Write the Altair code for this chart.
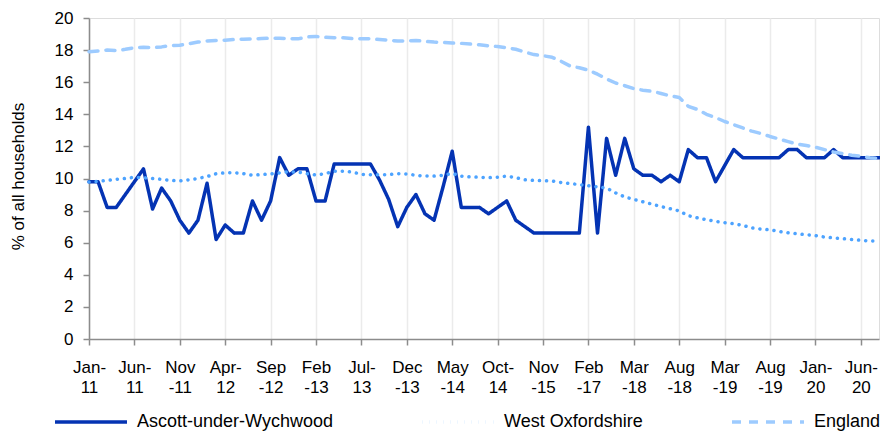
import altair as alt
import pandas as pd

months = [
    "Jan-11","Feb-11","Mar-11","Apr-11","May-11","Jun-11","Jul-11","Aug-11","Sep-11","Oct-11",
    "Nov-11","Dec-11","Jan-12","Feb-12","Mar-12","Apr-12","May-12","Jun-12","Jul-12","Aug-12",
    "Sep-12","Oct-12","Nov-12","Dec-12","Jan-13","Feb-13","Mar-13","Apr-13","May-13","Jun-13",
    "Jul-13","Aug-13","Sep-13","Oct-13","Nov-13","Dec-13","Jan-14","Feb-14","Mar-14","Apr-14",
    "May-14","Jun-14","Jul-14","Aug-14","Sep-14","Oct-14","Dec-14","Mar-15","Jun-15","Sep-15",
    "Nov-15","Feb-16","May-16","Aug-16","Nov-16","Feb-17","May-17","Aug-17","Nov-17","Feb-18",
    "Mar-18","Apr-18","May-18","Jun-18","Jul-18","Aug-18","Oct-18","Dec-18","Jan-19","Feb-19",
    "Mar-19","Apr-19","May-19","Jun-19","Jul-19","Aug-19","Sep-19","Oct-19","Nov-19","Dec-19",
    "Jan-20","Feb-20","Mar-20","Apr-20","May-20","Jun-20","Jul-20","Aug-20",
]

ascott = [
    9.8, 9.8, 8.2, 8.2, 9.0, 9.8, 10.6, 8.1, 9.4, 8.6,
    7.4, 6.6, 7.4, 9.7, 6.2, 7.1, 6.6, 6.6, 8.6, 7.4,
    8.6, 11.3, 10.2, 10.6, 10.6, 8.6, 8.6, 10.9, 10.9, 10.9,
    10.9, 10.9, 9.9, 8.7, 7.0, 8.2, 9.0, 7.8, 7.4, 9.5,
    11.7, 8.2, 8.2, 8.2, 7.8, 8.2, 8.6, 7.4, 7.0, 6.6,
    6.6, 6.6, 6.6, 6.6, 6.6, 13.2, 6.6, 12.5, 10.2, 12.5,
    10.6, 10.2, 10.2, 9.8, 10.2, 9.8, 11.8, 11.3, 11.3, 9.8,
    10.8, 11.8, 11.3, 11.3, 11.3, 11.3, 11.3, 11.8, 11.8, 11.3,
    11.3, 11.3, 11.8, 11.3, 11.3, 11.3, 11.3, 11.3,
]

west_oxon = [
    9.78, 9.82, 9.88, 9.95, 10.0, 10.08, 10.05, 10.0, 9.95, 9.88,
    9.85, 9.92, 10.0, 10.12, 10.3, 10.35, 10.36, 10.3, 10.2, 10.25,
    10.28, 10.35, 10.42, 10.4, 10.3, 10.22, 10.3, 10.45, 10.46, 10.4,
    10.26, 10.24, 10.24, 10.24, 10.3, 10.28, 10.2, 10.15, 10.15, 10.2,
    10.32, 10.15, 10.1, 10.08, 10.05, 10.08, 10.15, 10.05, 9.92, 9.88,
    9.86, 9.84, 9.75, 9.68, 9.62, 9.55, 9.48, 9.4, 9.1, 8.85,
    8.7, 8.55, 8.4, 8.25, 8.12, 7.98, 7.68, 7.55, 7.43, 7.33,
    7.25, 7.18, 7.08, 6.92, 6.85, 6.8, 6.7, 6.62, 6.55, 6.5,
    6.44, 6.35, 6.3, 6.25, 6.2, 6.15, 6.11, 6.1,
]

england = [
    17.9, 17.95, 18.0, 17.97, 18.05, 18.15, 18.18, 18.15, 18.2, 18.28,
    18.3, 18.4, 18.5, 18.57, 18.6, 18.62, 18.66, 18.68, 18.7, 18.72,
    18.74, 18.74, 18.72, 18.7, 18.82, 18.85, 18.8, 18.77, 18.77, 18.72,
    18.7, 18.7, 18.66, 18.62, 18.56, 18.58, 18.6, 18.55, 18.5, 18.48,
    18.44, 18.42, 18.38, 18.33, 18.27, 18.22, 18.15, 18.05, 17.88, 17.72,
    17.65, 17.55, 17.3, 17.0, 16.9, 16.75, 16.5, 16.2, 15.95, 15.78,
    15.6, 15.5, 15.43, 15.3, 15.15, 15.05, 14.5, 14.3, 14.0, 13.8,
    13.55, 13.35, 13.15, 12.95, 12.8, 12.62, 12.46, 12.3, 12.14, 12.05,
    11.95, 11.8, 11.65, 11.55, 11.45, 11.38, 11.3, 11.25,
]

series_names = ["Ascott-under-Wychwood", "West Oxfordshire", "England"]
series_colors = ["#0433B3", "#4DA3FF", "#9DCBFF"]
tick_labels = months[::5]

rows = []
for name, vals in zip(series_names, [ascott, west_oxon, england]):
    for m, v in zip(months, vals):
        rows.append({"month": m, "value": v, "series": name})
df = pd.DataFrame(rows)

font = "Liberation Sans"

wrap_expr = (
    "indexof(['Jan','Jun','Apr','Jul','Oct'], slice(datum.value,0,3)) >= 0"
    " ? [slice(datum.value,0,4), slice(datum.value,4)]"
    " : [slice(datum.value,0,3), slice(datum.value,3)]"
)

legend_cfg = dict(
    title=None,
    orient="none",
    direction="horizontal",
    columns=3,
    legendX=-36,
    legendY=366,
    symbolType="stroke",
    symbolSize=5184,
    symbolStrokeWidth=1.8,
    labelFont=font,
    labelFontSize=18,
    labelColor="#000000",
    labelOffset=8,
    columnPadding=82,
    labelLimit=400,
)

chart = alt.Chart(df).mark_line(strokeCap="round", strokeJoin="round").encode(
    x=alt.X(
        "month:O",
        sort=months,
        scale=alt.Scale(padding=0),
        axis=alt.Axis(
            title=None,
            values=tick_labels,
            labelExpr=wrap_expr,
            labelAngle=0,
            labelAlign="center",
            labelBaseline="top",
            labelFont=font,
            labelFontSize=17,
            labelColor="#000000",
            labelLineHeight=20,
            labelPadding=14,
            tickSize=6,
            tickColor="#8c8c8c",
            tickWidth=1.5,
            domainColor="#8c8c8c",
            domainWidth=1.5,
            grid=True,
            gridColor="#ebebeb",
            gridWidth=1.5,
        ),
    ),
    y=alt.Y(
        "value:Q",
        scale=alt.Scale(domain=[0, 20], nice=False),
        axis=alt.Axis(
            title="% of all households",
            values=list(range(0, 21, 2)),
            grid=False,
            labelFont=font,
            labelFontSize=17,
            labelColor="#000000",
            labelPadding=10,
            tickSize=6,
            tickColor="#8c8c8c",
            tickWidth=1.5,
            domainColor="#8c8c8c",
            domainWidth=1.5,
            titleFont=font,
            titleFontSize=17,
            titleFontWeight="normal",
            titleColor="#000000",
            titleX=-71,
            titleY=158,
            titleAngle=-90,
            titleAlign="center",
            titleBaseline="middle",
        ),
    ),
    color=alt.Color(
        "series:N",
        sort=series_names,
        scale=alt.Scale(domain=series_names, range=series_colors),
        legend=alt.Legend(**legend_cfg),
    ),
    strokeDash=alt.StrokeDash(
        "series:N",
        sort=series_names,
        scale=alt.Scale(domain=series_names, range=[[1, 0], [0.1, 7], [9, 8]]),
        legend=alt.Legend(**legend_cfg),
    ),
    strokeWidth=alt.StrokeWidth(
        "series:N",
        sort=series_names,
        scale=alt.Scale(domain=series_names, range=[3.5, 3.5, 4.5]),
        legend=None,
    ),
).properties(
    width=790,
    height=321,
    autosize=alt.AutoSizeParams(type="none"),
    padding={"left": 81, "top": 10, "right": 1, "bottom": 92},
).configure_view(stroke=None).configure(background="#ffffff")

chart.save("out.html", embed_options={"renderer": "svg", "actions": False})
